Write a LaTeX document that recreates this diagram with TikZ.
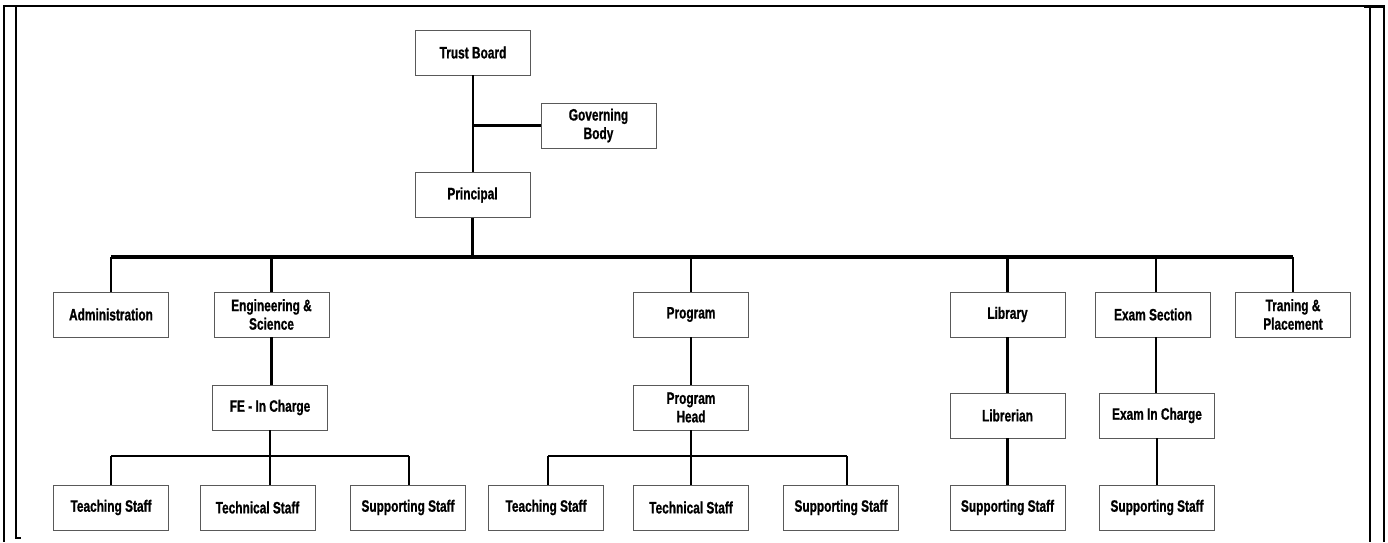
\documentclass[tikz,border=0pt]{standalone}
\usepackage{fontspec}
\setmainfont{Liberation Sans}[FakeStretch=0.72, BoldFeatures={FakeBold=0.8}]
\begin{document}
\begin{tikzpicture}[x=1pt,y=-1pt,
  box/.style={draw=black!65, line width=0.9pt, fill=white, minimum width=115pt, minimum height=45pt,
    inner sep=0pt, align=center, font=\bfseries\fontsize{16.5}{18.5}\selectfont},
  conn/.style={draw=black, line width=2.6pt},
  busline/.style={draw=black, line width=3.6pt},
  frame/.style={draw=black, line width=2pt}]
\useasboundingbox (0,0) rectangle (1388,542);
% frame
\draw[frame, line width=1.6pt] (3,6) -- (1385,6);
\draw[frame, line width=2.3pt] (4,6) -- (4,542);
\draw[frame, line width=1.3pt] (16,6) -- (16,538) -- (21,538);
\draw[frame] (1370,6) -- (1370,542);
\draw[frame] (1384,6) -- (1384,542);
\draw[frame, line width=2.6pt] (1364,7) -- (1384,7);
% nodes
\node[box] (tb) at (473,52.5) {Trust Board};
\node[box] (gb) at (598.5,125.5) {Governing\\Body};
\node[box] (pr) at (472.5,195) {Principal};
\node[box] (adm) at (111,314.5) {Administration};
\node[box] (eng) at (271.5,314.5) {Engineering \&\\Science};
\node[box] (prog) at (691,314.5) {Program};
\node[box] (lib) at (1007.5,314.5) {Library};
\node[box] (exam) at (1153,314.5) {Exam Section};
\node[box] (trp) at (1293,314.5) {Traning \&\\Placement};
\node[box] (fe) at (270,407.5) {FE - In Charge};
\node[box] (ph) at (691,407.5) {Program\\Head};
\node[box] (libr) at (1007.5,415.5) {Librerian};
\node[box] (eic) at (1157,415.5) {Exam In Charge};
\node[box] (ts1) at (111,507.5) {Teaching Staff};
\node[box] (tech1) at (257.5,507.5) {Technical Staff};
\node[box] (ss1) at (408,507.5) {Supporting Staff};
\node[box] (ts2) at (546,507.5) {Teaching Staff};
\node[box] (tech2) at (691,507.5) {Technical Staff};
\node[box] (ss2) at (841,507.5) {Supporting Staff};
\node[box] (ss3) at (1007.5,507.5) {Supporting Staff};
\node[box] (ss4) at (1157,507.5) {Supporting Staff};
\coordinate (busy) at (0,257);
\coordinate (sby) at (0,456);
% connectors
\draw[conn] (tb.south) -- (tb.south |- pr.north);
\draw[conn] (gb.west) -- (gb.west -| tb.south);
\draw[conn] (pr.south) -- (pr.south |- busy);
\draw[busline] (adm.north |- busy) -- (trp.north |- busy);
\foreach \n in {adm,eng,prog,lib,trp} \draw[conn] (\n.north) -- (\n.north |- busy);
\draw[conn] ([xshift=3pt]exam.north) -- ([xshift=3pt]exam.north |- busy);
% engineering branch
\draw[conn] (eng.south) -- (eng.south |- fe.north);
\draw[conn] (fe.south) -- (fe.south |- sby);
\draw[conn] (ts1.north |- sby) -- ([xshift=1pt]ss1.north |- sby);
\draw[conn] (ts1.north) -- (ts1.north |- sby);
\draw[conn] (fe.south |- tech1.north) -- (fe.south |- sby);
\draw[conn] ([xshift=1pt]ss1.north) -- ([xshift=1pt]ss1.north |- sby);
% program branch
\draw[conn] (prog.south) -- (ph.north);
\draw[conn] (ph.south) -- (tech2.north);
\draw[conn] ([xshift=2pt]ts2.north |- sby) -- ([xshift=6pt]ss2.north |- sby);
\draw[conn] ([xshift=2pt]ts2.north) -- ([xshift=2pt]ts2.north |- sby);
\draw[conn] ([xshift=6pt]ss2.north) -- ([xshift=6pt]ss2.north |- sby);
% library branch
\draw[conn] (lib.south) -- (libr.north);
\draw[conn] (libr.south) -- (ss3.north);
% exam branch
\draw[conn] ([xshift=3pt]exam.south) -- ([xshift=3pt]exam.south |- eic.north);
\draw[conn] (eic.south) -- (ss4.north);
\end{tikzpicture}
\end{document}
